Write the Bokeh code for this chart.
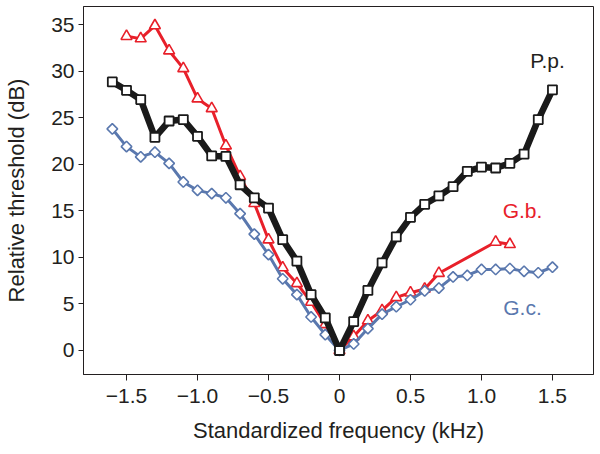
import numpy as np
from bokeh.plotting import figure
from bokeh.models import FixedTicker, Range1d, Label
from bokeh.embed import file_html
from bokeh.resources import INLINE

# ---- data ----
pp_x = [-1.6, -1.5, -1.4, -1.3, -1.2, -1.1, -1.0, -0.9, -0.8, -0.7, -0.6, -0.5, -0.4, -0.3, -0.2, -0.1,
        0.0, 0.1, 0.2, 0.3, 0.4, 0.5, 0.6, 0.7, 0.8, 0.9, 1.0, 1.1, 1.2, 1.3, 1.4, 1.5]
pp_y = [28.85, 27.95, 26.95, 22.9, 24.65, 24.8, 23.0, 20.9, 20.85, 17.8, 16.4, 15.3, 11.9, 9.6, 6.0, 3.5,
        0.0, 3.1, 6.45, 9.4, 12.2, 14.3, 15.7, 16.6, 17.6, 19.25, 19.7, 19.6, 20.1, 21.1, 24.8, 28.0]

gb_x = [-1.5, -1.4, -1.3, -1.2, -1.1, -1.0, -0.9, -0.8, -0.7, -0.6, -0.5, -0.4, -0.3, -0.2, -0.1,
        0.0, 0.1, 0.2, 0.3, 0.4, 0.5, 0.6, 0.7, 1.1, 1.2]
gb_y = [33.75, 33.5, 34.9, 32.2, 30.3, 27.05, 26.0, 22.0, 18.7, 15.8, 11.9, 8.9, 7.2, 5.2, 2.8,
        0.0, 1.5, 3.2, 4.3, 5.7, 6.2, 6.6, 8.3, 11.65, 11.4]

gc_x = [-1.6, -1.5, -1.4, -1.3, -1.2, -1.1, -1.0, -0.9, -0.8, -0.7, -0.6, -0.5, -0.4, -0.3, -0.2, -0.1,
        0.0, 0.1, 0.2, 0.3, 0.4, 0.5, 0.6, 0.7, 0.8, 0.9, 1.0, 1.1, 1.2, 1.3, 1.4, 1.5]
gc_y = [23.8, 21.9, 20.8, 21.3, 20.1, 18.1, 17.2, 16.85, 16.4, 14.7, 12.5, 10.3, 7.7, 6.0, 3.6, 1.7,
        0.0, 0.7, 2.35, 3.9, 4.7, 5.45, 6.4, 6.7, 7.9, 8.06, 8.7, 8.7, 8.8, 8.5, 8.35, 8.95]

x_ticks = [-1.5, -1.0, -0.5, 0.0, 0.5, 1.0, 1.5]
x_tick_labels = ["\u22121.5", "\u22121.0", "\u22120.5", "0", "0.5", "1.0", "1.5"]
y_ticks = [0, 5, 10, 15, 20, 25, 30, 35]

series_names = ["P.p.", "G.b.", "G.c."]
name_x = [1.465, 1.289, 1.289]
name_y = [31.2, 15.04, 4.65]

BLACK = "#1a1a1a"
RED = "#e8202a"
BLUE = "#5a78ae"
TXT = "#231f20"
FONT = "Liberation Sans"

p = figure(width=595, height=452, output_backend="svg", toolbar_location=None,
           x_range=Range1d(-1.803, 1.789), y_range=Range1d(-2.58, 36.95),
           min_border_left=83, min_border_right=2, min_border_top=6, min_border_bottom=78)

p.grid.visible = False
p.outline_line_color = TXT
p.outline_line_width = 1
p.background_fill_color = "white"
p.border_fill_color = "white"

for ax in (p.xaxis[0], p.yaxis[0]):
    ax.axis_line_color = TXT
    ax.major_tick_line_color = TXT
    ax.minor_tick_line_color = None
    ax.major_tick_in = 0
    ax.major_label_text_font = FONT
    ax.major_label_text_font_size = "21px"
    ax.major_label_text_color = TXT
    ax.axis_label_text_font = FONT
    ax.axis_label_text_font_size = "22px"
    ax.axis_label_text_font_style = "normal"
    ax.axis_label_text_color = TXT

p.xaxis.ticker = FixedTicker(ticks=x_ticks)
p.xaxis.major_label_overrides = {t: l for t, l in zip(x_ticks, x_tick_labels)}
p.xaxis.major_tick_out = 6
p.xaxis.major_label_standoff = 8
p.xaxis.axis_label = "Standardized frequency (kHz)"
p.xaxis.axis_label_standoff = 12

p.yaxis.ticker = FixedTicker(ticks=y_ticks)
p.yaxis.major_tick_out = 5
p.yaxis.major_label_standoff = 4
p.yaxis.axis_label = "Relative threshold (dB)"
p.yaxis.axis_label_standoff = 19

# G.b. (red triangles)
p.line(gb_x, gb_y, line_color=RED, line_width=3, line_join="round")
p.scatter(gb_x, gb_y, marker="triangle", size=11, line_color=RED, line_width=1.6, fill_color="white")

# G.c. (blue diamonds)
p.line(gc_x, gc_y, line_color=BLUE, line_width=3, line_join="round")
p.scatter(gc_x, gc_y, marker="square", angle=np.pi / 4, size=7.5, line_color=BLUE, line_width=1.6,
          fill_color="white")

# P.p. (black squares)
p.line(pp_x, pp_y, line_color=BLACK, line_width=6.5, line_join="round")
p.scatter(pp_x, pp_y, marker="square", size=9, line_color=BLACK, line_width=1.8, fill_color="white")

for name, lx, ly, col in zip(series_names, name_x, name_y, [TXT, RED, BLUE]):
    p.add_layout(Label(x=lx, y=ly, text=name, text_align="center", text_baseline="middle",
                       text_font=FONT, text_font_size="21px", text_color=col))

open("out.html", "w").write(file_html(p, INLINE))
